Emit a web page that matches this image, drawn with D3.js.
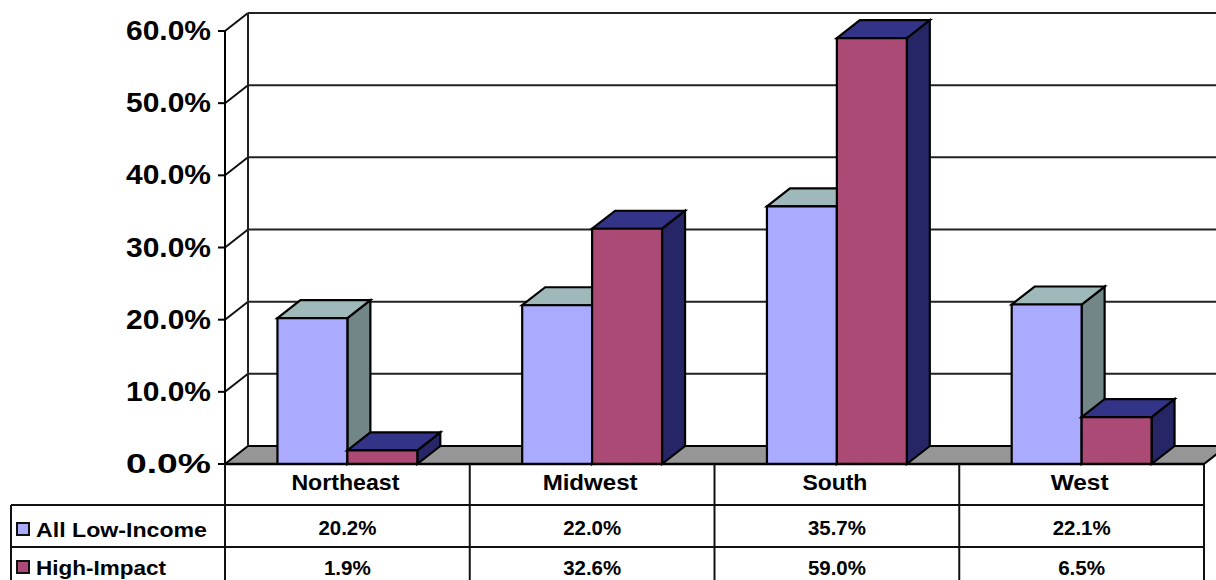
<!DOCTYPE html>
<html><head><meta charset="utf-8">
<script src="https://cdnjs.cloudflare.com/ajax/libs/d3/7.8.5/d3.min.js"></script>
<style>html,body{margin:0;padding:0;background:#fff;overflow:hidden}svg{display:block}text{font-family:"Liberation Sans",Arial,sans-serif;font-weight:bold;fill:#000}</style>
</head><body><svg id="c" width="1216" height="580"></svg>
<script>
const categories=["Northeast","Midwest","South","West"];
const seriesNames=["All Low-Income","High-Impact"];
const lowIncome=[20.2,22.0,35.7,22.1];
const highImpact=[1.9,32.6,59.0,6.5];
const ticks=[0,10,20,30,40,50,60];
const frontColors=["#AAAAFF","#AA4A75"];
const topColors=["#9FB9BA","#333388"];
const sideColors=["#738687","#262666"];

const svg=d3.select("#c");
const W=1216,H=580,dx=23,dy=-18;
const y=d3.scaleLinear().domain([0,60]).range([464,31]);
const x0=d3.scaleBand().domain(categories).range([225,1204]);
const x1=d3.scaleBand().domain(seriesNames).range([0,x0.bandwidth()]).paddingOuter(0.75).paddingInner(0);
const stroke="#000";
const poly=(pts,fill,sw=2.2,col=stroke)=>svg.append("path").attr("d","M"+pts.map(p=>p.join(",")).join("L")+"Z").attr("fill",fill).attr("stroke",col).attr("stroke-width",sw).attr("stroke-linejoin","miter");
const line=(a,b,c,d,col="#111",sw=2)=>svg.append("line").attr("x1",a).attr("y1",b).attr("x2",c).attr("y2",d).attr("stroke",col).attr("stroke-width",sw);

// floor
poly([[225,y(0)],[225+dx,y(0)+dy],[1204+dx,y(0)+dy],[1204,y(0)]],"#969696",2);
// walls
ticks.forEach(t=>{
  if(t>0) line(225+dx,y(t)+dy,W,y(t)+dy,"#222");
  if(t>0) line(225,y(t),225+dx,y(t)+dy,"#111");
  line(218,y(t),225,y(t),"#000");
  svg.append("text").attr("x",211).attr("y",y(t)+9).attr("text-anchor","end").attr("font-size",27).attr("textLength",85).attr("lengthAdjust","spacingAndGlyphs").text(d3.format(".1f")(t)+"%");
});
line(225+dx,y(60)+dy,225+dx,y(0)+dy,"#222");
line(225,y(60),225,y(0),"#000");

// bars
const values=[lowIncome,highImpact];
categories.forEach((c,i)=>{
  seriesNames.forEach((s,k)=>{
    const v=values[k][i];
    const a=x0(c)+x1(s),b=a+x1.bandwidth(),t=y(v),z=y(0);
    poly([[b,z],[b+dx,z+dy],[b+dx,t+dy],[b,t]],sideColors[k]);
    poly([[a,t],[a+dx,t+dy],[b+dx,t+dy],[b,t]],topColors[k]);
    poly([[a,z],[a,t],[b,t],[b,z]],frontColors[k]);
  });
});

// data table
line(225,464,1204,464,"#000",2.5);
line(11,505,1204,505,"#111");
line(11,547,1204,547,"#111");
line(11,505,11,H,"#111");
x0.domain().forEach(c=>line(x0(c),464,x0(c),H,"#111"));
line(1204,464,1204,H,"#111");
categories.forEach((c,i)=>{
  const cx=x0(c)+x0.bandwidth()/2;
  svg.append("text").attr("x",cx-2).attr("y",490).attr("text-anchor","middle").attr("font-size",22).attr("textLength",[108,95,65,58][i]).attr("lengthAdjust","spacingAndGlyphs").text(c);
  svg.append("text").attr("x",cx).attr("y",535).attr("text-anchor","middle").attr("font-size",21).attr("textLength",58).attr("lengthAdjust","spacingAndGlyphs").text(d3.format(".1f")(lowIncome[i])+"%");
  svg.append("text").attr("x",cx).attr("y",575).attr("text-anchor","middle").attr("font-size",21).attr("textLength",highImpact[i]<10?47:58).attr("lengthAdjust","spacingAndGlyphs").text(d3.format(".1f")(highImpact[i])+"%");
});
seriesNames.forEach((s,k)=>{
  const ty=[537,575][k];
  svg.append("rect").attr("x",17).attr("y",ty-14).attr("width",12).attr("height",12).attr("fill",frontColors[k]).attr("stroke","#111").attr("stroke-width",2);
  svg.append("text").attr("x",36).attr("y",ty).attr("font-size",21).attr("textLength",[171,130][k]).attr("lengthAdjust","spacingAndGlyphs").text(s);
});
</script></body></html>
